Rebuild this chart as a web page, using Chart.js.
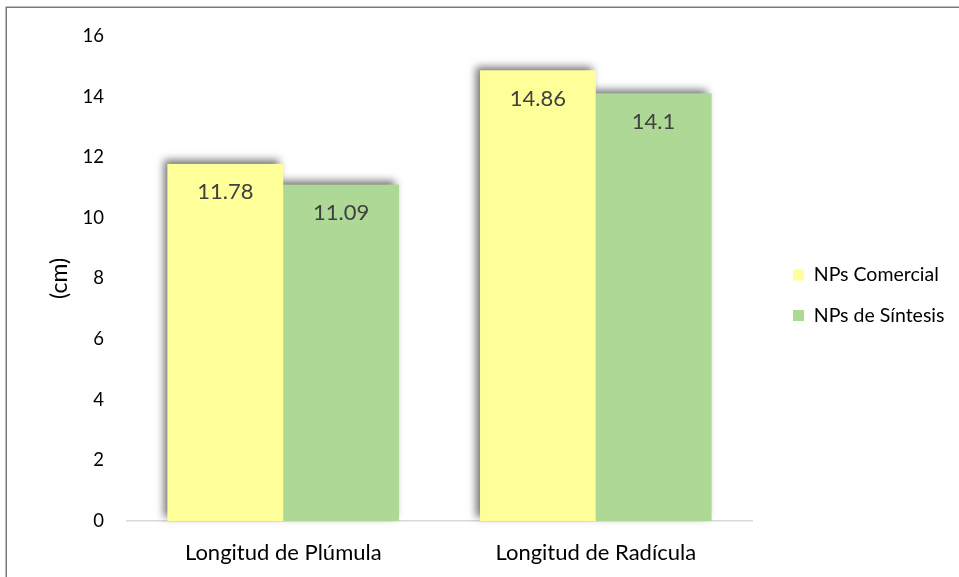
<!DOCTYPE html>
<html>
<head>
<meta charset="utf-8">
<script src="https://cdn.jsdelivr.net/npm/chart.js@4.4.1/dist/chart.umd.min.js"></script>
<style>
  html, body { margin: 0; padding: 0; background: #ffffff; }
  #wrap { position: relative; width: 959px; height: 577px; overflow: hidden; }
  canvas { display: block; }
</style>
</head>
<body>
<div id="wrap"><canvas id="c" width="959" height="577"></canvas></div>
<script>
// Categories and series
const categories = ['Longitud de Plúmula', 'Longitud de Radícula'];
const seriesNames = ['NPs Comercial', 'NPs de Síntesis'];
const comercialValues = [11.78, 14.86];
const sintesisValues = [11.09, 14.1];
const seriesColors = ['#FFFF99', '#ADD895'];

const FONT = 'Lato, "Liberation Sans", sans-serif';
const LEGEND_SIZE = 19.5;
const LEGEND_PAD = 21;
const LEGEND_BOX = 11;

// Frame line along the top and left edges
const framePlugin = {
  id: 'frame',
  afterDraw(chart) {
    const ctx = chart.ctx;
    ctx.save();
    ctx.strokeStyle = '#7a7a7a';
    ctx.lineWidth = 1.5;
    ctx.beginPath();
    ctx.moveTo(6.25, 2000);
    ctx.lineTo(6.25, 7.25);
    ctx.lineTo(2000, 7.25);
    ctx.stroke();
    ctx.restore();
  }
};

// Soft shadow behind each bar, drawn before the bars themselves
const barShadowPlugin = {
  id: 'barShadow',
  beforeDatasetsDraw(chart) {
    const ctx = chart.ctx;
    ctx.save();
    chart.data.datasets.forEach((ds, di) => {
      const meta = chart.getDatasetMeta(di);
      meta.data.forEach(bar => {
        const { x, y, base, width } = bar.getProps(['x', 'y', 'base', 'width'], true);
        ctx.save();
        ctx.shadowColor = 'rgba(0,0,0,0.55)';
        ctx.shadowBlur = 8;
        ctx.shadowOffsetX = -4;
        ctx.shadowOffsetY = -4;
        ctx.fillStyle = ds.backgroundColor;
        ctx.fillRect(x - width / 2, y, width, base - y);
        ctx.restore();
      });
    });
    ctx.restore();
  }
};

// Value labels inside the top of each bar
const valueLabelPlugin = {
  id: 'valueLabels',
  afterDatasetsDraw(chart) {
    const ctx = chart.ctx;
    ctx.save();
    ctx.font = '22px ' + FONT;
    ctx.fillStyle = '#404040';
    ctx.textAlign = 'center';
    ctx.textBaseline = 'middle';
    chart.data.datasets.forEach((ds, di) => {
      const meta = chart.getDatasetMeta(di);
      meta.data.forEach((bar, i) => {
        const { x, y } = bar.getProps(['x', 'y'], true);
        ctx.fillText(String(ds.data[i]), x, y + 28);
      });
    });
    ctx.restore();
  }
};

function build() {
  // Right padding keeps the legend block at a fixed place whatever the text width
  const m = document.createElement('canvas').getContext('2d');
  m.font = LEGEND_SIZE + 'px ' + FONT;
  const textW = Math.max(...seriesNames.map(s => m.measureText(s).width));
  const legendW = LEGEND_PAD + LEGEND_BOX + LEGEND_SIZE / 2 + textW + 10;
  const legendLeft = 793 - LEGEND_PAD;
  const padRight = Math.max(0, 959 - legendLeft - legendW);

  new Chart(document.getElementById('c'), {
    type: 'bar',
    data: {
      labels: categories,
      datasets: [
        { label: seriesNames[0], data: comercialValues, backgroundColor: seriesColors[0] },
        { label: seriesNames[1], data: sintesisValues, backgroundColor: seriesColors[1] }
      ]
    },
    options: {
      responsive: false,
      animation: false,
      devicePixelRatio: 1,
      layout: { padding: { top: 36, left: 0, right: padRight, bottom: 0 } },
      datasets: { bar: { categoryPercentage: 0.74, barPercentage: 1.0 } },
      scales: {
        x: {
          grid: { display: false, drawTicks: false },
          border: { display: true, color: '#D9D9D9', width: 1.5 },
          ticks: { color: '#000000', font: { family: FONT, size: 22 }, padding: 19 },
          afterFit(scale) { scale.height = 56; }
        },
        y: {
          min: 0,
          max: 16,
          grid: { display: false, drawTicks: false },
          border: { display: false },
          ticks: { stepSize: 2, color: '#000000', font: { family: FONT, size: 18.5 }, padding: 23 },
          title: {
            display: true,
            text: '(cm)',
            color: '#000000',
            font: { family: FONT, size: 23 },
            padding: { top: 46, bottom: 0 }
          },
          afterFit(scale) { scale.width = 127; }
        },
        gap: {
          position: 'right',
          display: true,
          grid: { display: false, drawTicks: false },
          border: { display: false },
          ticks: { display: false },
          afterFit(scale) { scale.width = legendLeft - 752; }
        }
      },
      plugins: {
        legend: {
          position: 'right',
          align: 'center',
          fullSize: false,
          maxWidth: 400,
          title: { display: true, text: '', font: { family: FONT, size: LEGEND_SIZE }, padding: { top: 10, bottom: 0 } },
          labels: {
            color: '#000000',
            font: { family: FONT, size: LEGEND_SIZE },
            boxWidth: LEGEND_BOX,
            boxHeight: LEGEND_BOX,
            padding: LEGEND_PAD
          }
        },
        tooltip: { enabled: false }
      }
    },
    plugins: [barShadowPlugin, valueLabelPlugin, framePlugin]
  });
}

// Make sure the text font is ready so label widths are measured correctly
Promise.all([
  document.fonts.load('19.5px Lato'),
  document.fonts.load('22px Lato')
]).then(build, build);
</script>
</body>
</html>
